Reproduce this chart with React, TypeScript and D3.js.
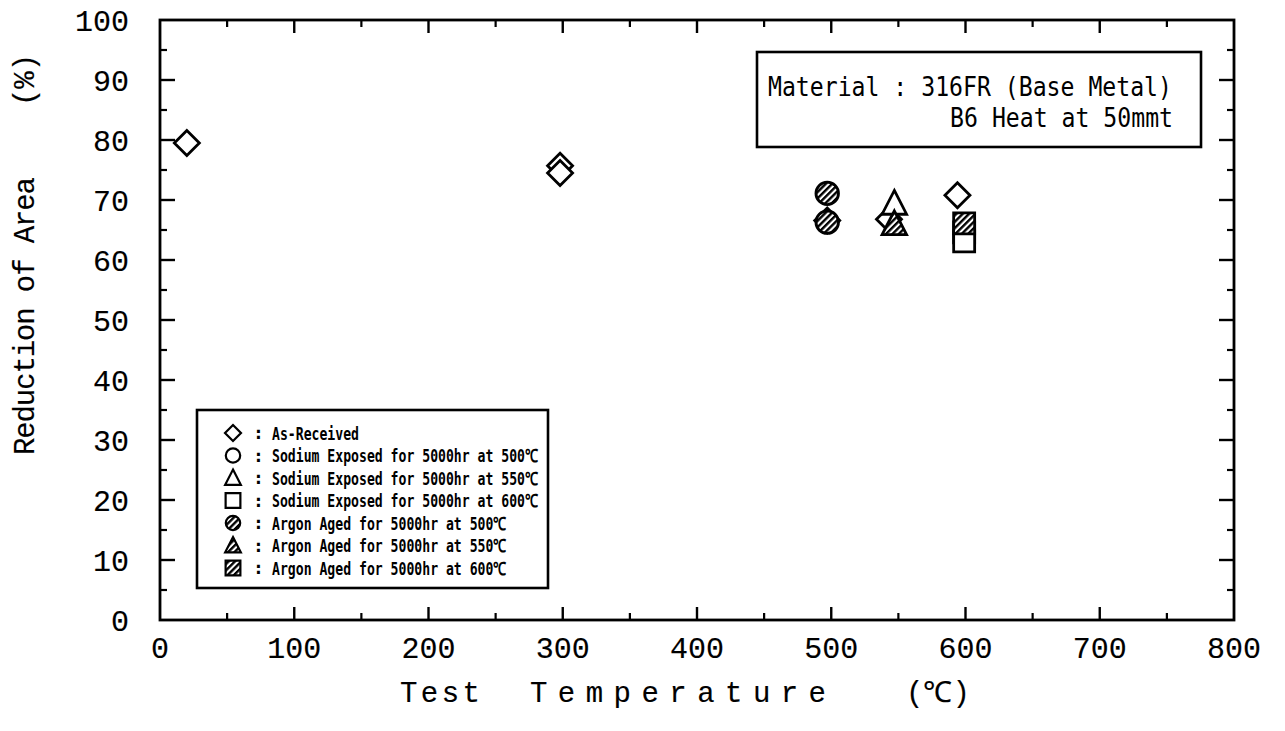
import React from "react";
import * as d3 from "d3";

// Reduction of area vs. test temperature, 316FR base metal
const asReceivedT = [20, 298, 298, 497, 543, 594];
const asReceivedRA = [79.5, 75.7, 74.5, 66.6, 66.8, 70.8];

const naExposed550T = [547];
const naExposed550RA = [69.4];

const naExposed600T = [599, 599];
const naExposed600RA = [64.6, 63.1];

const arAged500T = [497, 497];
const arAged500RA = [71.1, 66.3];

const arAged550T = [547];
const arAged550RA = [66.0];

const arAged600T = [599];
const arAged600RA = [66.1];

const xMajorTicks = [0, 100, 200, 300, 400, 500, 600, 700, 800];
const xMinorTicks = [50, 150, 250, 350, 450, 550, 650, 750];
const yMajorTicks = [0, 10, 20, 30, 40, 50, 60, 70, 80, 90, 100];
const yMinorTicks = [5, 15, 25, 35, 45, 55, 65, 75, 85, 95];

const legendLabels = [
  "As-Received",
  "Sodium Exposed for 5000hr at 500\u2103",
  "Sodium Exposed for 5000hr at 550\u2103",
  "Sodium Exposed for 5000hr at 600\u2103",
  "Argon Aged for 5000hr at 500\u2103",
  "Argon Aged for 5000hr at 550\u2103",
  "Argon Aged for 5000hr at 600\u2103",
];
const legendShapes = ["diamond", "circle", "triangle", "square", "circle", "triangle", "square"];
const legendHatched = [false, false, false, false, true, true, true];

const W = 1285;
const H = 731;
const left = 160;
const right = 1234;
const top = 20;
const bottom = 620;

const x = d3.scaleLinear().domain([0, 800]).range([left, right]);
const y = d3.scaleLinear().domain([0, 100]).range([bottom, top]);

const NUM_FONT = "'Liberation Mono', 'DejaVu Sans Mono', monospace";
const GOTHIC_FONT = "'DejaVu Sans Mono', 'Liberation Mono', monospace";

function shapePath(shape: string, s: number): string {
  // s: half-size of the marker
  switch (shape) {
    case "diamond":
      return `M0,${-s}L${s},0L0,${s}L${-s},0Z`;
    case "triangle":
      return `M0,${-s * 1.05}L${s * 0.98},${s * 0.85}L${-s * 0.98},${s * 0.85}Z`;
    case "square":
      return `M${-s * 0.82},${-s * 0.82}H${s * 0.82}V${s * 0.82}H${-s * 0.82}Z`;
    default: {
      const p = d3.path();
      p.arc(0, 0, s * 0.9, 0, Math.PI * 2);
      p.closePath();
      return p.toString();
    }
  }
}

function Marker({ cx, cy, shape, hatched, s, sw }: { cx: number; cy: number; shape: string; hatched: boolean; s: number; sw: number }) {
  return (
    <path
      d={shapePath(shape, s)}
      transform={`translate(${cx},${cy})`}
      fill={hatched ? "url(#hatch)" : "#fff"}
      stroke="#000"
      strokeWidth={sw}
      strokeLinejoin="miter"
    />
  );
}

function Series({ ts, vs, shape, hatched }: { ts: number[]; vs: number[]; shape: string; hatched: boolean }) {
  return (
    <g>
      {ts.map((t, i) => (
        <Marker key={i} cx={x(t)} cy={y(vs[i])} shape={shape} hatched={hatched} s={shape === "square" ? 12.8 : 12.5} sw={2.8} />
      ))}
    </g>
  );
}

export default function App() {
  const legendX = 197;
  const legendY = 410;
  const legendW = 351;
  const legendH = 178;
  const rowY0 = 433;
  const rowStep = 22.5;

  const numStyle = { fontFamily: NUM_FONT, fontSize: 30, fill: "#000", stroke: "#000", strokeWidth: 0.15 };

  return (
    <svg width={W} height={H} style={{ display: "block", position: "absolute", left: 0, top: 0, background: "#fff" }}>
      <defs>
        <pattern id="hatch" patternUnits="userSpaceOnUse" width="4.5" height="4.5" patternTransform="rotate(45)">
          <rect width="4.5" height="4.5" fill="#fff" />
          <rect width="2.4" height="4.5" fill="#000" />
        </pattern>
      </defs>
      <rect x={0} y={0} width={W} height={H} fill="#fff" />

      {/* frame */}
      <rect x={left} y={top} width={right - left} height={bottom - top} fill="none" stroke="#000" strokeWidth={2.8} />

      {/* x ticks, bottom and top, pointing inward */}
      {xMajorTicks.slice(1, -1).map((t) => (
        <g key={"xM" + t}>
          <line x1={x(t)} x2={x(t)} y1={bottom} y2={bottom - 13} stroke="#000" strokeWidth={2.4} />
          <line x1={x(t)} x2={x(t)} y1={top} y2={top + 13} stroke="#000" strokeWidth={2.4} />
        </g>
      ))}
      {xMinorTicks.map((t) => (
        <g key={"xm" + t}>
          <line x1={x(t)} x2={x(t)} y1={bottom} y2={bottom - 7} stroke="#000" strokeWidth={2.2} />
          <line x1={x(t)} x2={x(t)} y1={top} y2={top + 7} stroke="#000" strokeWidth={2.2} />
        </g>
      ))}
      {/* y ticks, left and right */}
      {yMajorTicks.slice(1, -1).map((v) => (
        <g key={"yM" + v}>
          <line x1={left} x2={left + 15} y1={y(v)} y2={y(v)} stroke="#000" strokeWidth={2.4} />
          <line x1={right} x2={right - 15} y1={y(v)} y2={y(v)} stroke="#000" strokeWidth={2.4} />
        </g>
      ))}
      {yMinorTicks.map((v) => (
        <g key={"ym" + v}>
          <line x1={left} x2={left + 7} y1={y(v)} y2={y(v)} stroke="#000" strokeWidth={2.2} />
          <line x1={right} x2={right - 7} y1={y(v)} y2={y(v)} stroke="#000" strokeWidth={2.2} />
        </g>
      ))}

      {/* tick labels */}
      {xMajorTicks.map((t) => (
        <text key={"xl" + t} x={x(t)} y={658} textAnchor="middle" {...numStyle}>
          {t}
        </text>
      ))}
      {yMajorTicks.map((v) => (
        <text key={"yl" + v} x={129} y={y(v)} dy="0.36em" textAnchor="end" {...numStyle}>
          {v}
        </text>
      ))}

      {/* axis titles */}
      <text x={400} y={702} textLength={80} lengthAdjust="spacing" {...numStyle} fontSize={29}>
        Test
      </text>
      <text x={530} y={702} textLength={296} lengthAdjust="spacing" {...numStyle} fontSize={29}>
        Temperature
      </text>
      <text x={938} y={702} textAnchor="middle" {...numStyle} fontSize={29}>
        (℃)
      </text>
      <text transform={`translate(34,455) rotate(-90)`} textLength={278} lengthAdjust="spacing" {...numStyle} fontSize={29}>
        Reduction of Area
      </text>
      <text transform={`translate(34,80) rotate(-90)`} textAnchor="middle" {...numStyle} fontSize={29}>
        (%)
      </text>

      {/* data */}
      <Series ts={asReceivedT} vs={asReceivedRA} shape="diamond" hatched={false} />
      <Series ts={arAged500T} vs={arAged500RA} shape="circle" hatched={true} />
      <Series ts={naExposed550T} vs={naExposed550RA} shape="triangle" hatched={false} />
      <Series ts={arAged550T} vs={arAged550RA} shape="triangle" hatched={true} />
      <Series ts={naExposed600T} vs={naExposed600RA} shape="square" hatched={false} />
      <Series ts={arAged600T} vs={arAged600RA} shape="square" hatched={true} />

      {/* material box */}
      <rect x={757} y={52} width={444} height={95} fill="#fff" stroke="#000" strokeWidth={2.6} />
      <g transform="translate(768,96) scale(0.89,1)">
        <text x={0} y={0} fontFamily={GOTHIC_FONT} fontSize={26} fill="#000">
          Material : 316FR (Base Metal)
        </text>
      </g>
      <g transform="translate(1173,127) scale(0.89,1)">
        <text x={0} y={0} textAnchor="end" fontFamily={GOTHIC_FONT} fontSize={26} fill="#000">
          B6 Heat at 50mmt
        </text>
      </g>

      {/* legend */}
      <rect x={legendX} y={legendY} width={legendW} height={legendH} fill="#fff" stroke="#000" strokeWidth={2.6} />
      {legendLabels.map((lab, i) => {
        const ry = rowY0 + i * rowStep;
        return (
          <g key={"lg" + i}>
            <Marker cx={233} cy={ry} shape={legendShapes[i]} hatched={legendHatched[i]} s={legendShapes[i] === "square" ? 9 : 8} sw={2.2} />
            <text x={253} y={ry} dy="0.35em" fontFamily={GOTHIC_FONT} fontWeight="bold" fontSize={18} fill="#000">
              :
            </text>
            <g transform={`translate(272,${ry}) scale(0.73,1)`}>
              <text x={0} y={0} dy="0.37em" fontFamily={GOTHIC_FONT} fontWeight="bold" fontSize={18} fill="#000">
                {lab}
              </text>
            </g>
          </g>
        );
      })}
    </svg>
  );
}
